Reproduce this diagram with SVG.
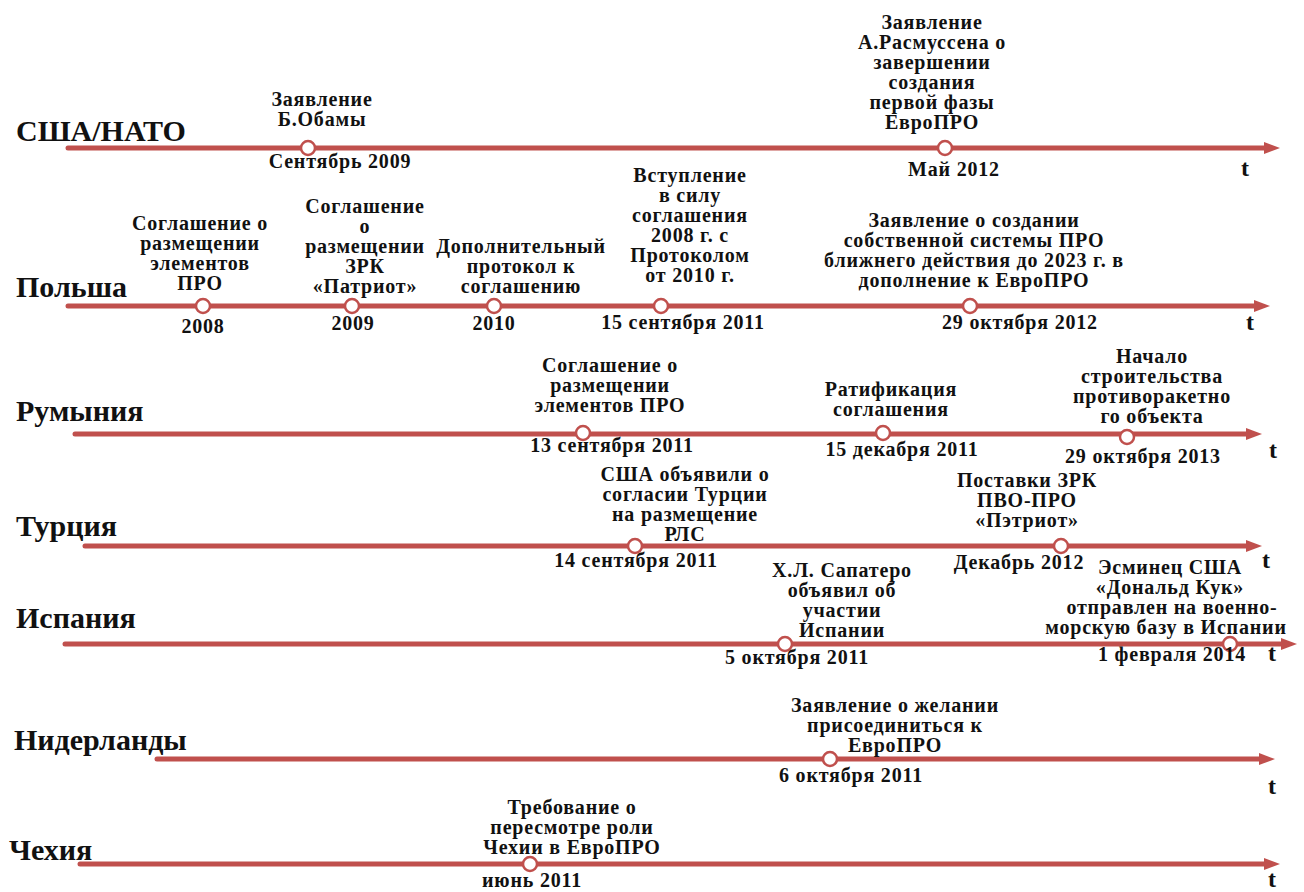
<svg xmlns="http://www.w3.org/2000/svg" width="1304" height="892" viewBox="0 0 1304 892">
<style>
  text { font-family: "Liberation Serif", "Times New Roman", serif; font-weight: bold; fill: #111; }
  .country { font-size: 30px; }
  .ev { font-size: 20px; letter-spacing: 0.8px; text-anchor: middle; }
  .t { font-size: 24px; text-anchor: middle; }
  .axis { stroke: #c0504d; stroke-width: 5; stroke-linecap: round; fill: none; }
  .dot { fill: #fff; stroke: #c0504d; stroke-width: 2.5; }
</style>
<defs>
  <marker id="arr" markerUnits="userSpaceOnUse" markerWidth="18" markerHeight="14" refX="4" refY="6" orient="auto">
    <path d="M0,0 L16,6 L0,12 z" fill="#c0504d"/>
  </marker>
</defs>
<rect width="1304" height="892" fill="#fff"/>

<g id="connectors">
  <line class="axis" x1="68" y1="148" x2="1268" y2="148" marker-end="url(#arr)"/>
  <line class="axis" x1="68" y1="306" x2="1258" y2="306" marker-end="url(#arr)"/>
  <line class="axis" x1="75" y1="434" x2="1250" y2="434" marker-end="url(#arr)"/>
  <line class="axis" x1="85" y1="546" x2="1250" y2="546" marker-end="url(#arr)"/>
  <line class="axis" x1="65" y1="644" x2="1285" y2="644" marker-end="url(#arr)"/>
  <line class="axis" x1="157" y1="759" x2="1263" y2="759" marker-end="url(#arr)"/>
  <line class="axis" x1="80" y1="864" x2="1268" y2="864" marker-end="url(#arr)"/>
</g>

<g id="row-usa">
  <text class="country" x="16" y="141">США/НАТО</text>
  <text class="t" x="1245" y="176">t</text>
</g>
<g id="ev-usa-2009">
  <circle class="dot" cx="308" cy="148" r="7"/>
  <text class="ev"><tspan x="322" y="106">Заявление</tspan><tspan x="322" y="126">Б.Обамы</tspan></text>
  <text class="ev" x="340" y="168">Сентябрь 2009</text>
</g>
<g id="ev-usa-2012">
  <circle class="dot" cx="945" cy="148" r="7"/>
  <text class="ev"><tspan x="932" y="29">Заявление</tspan><tspan x="932" y="49">А.Расмуссена о</tspan><tspan x="932" y="69">завершении</tspan><tspan x="932" y="89">создания</tspan><tspan x="932" y="109">первой фазы</tspan><tspan x="932" y="129">ЕвроПРО</tspan></text>
  <text class="ev" x="954" y="176">Май 2012</text>
</g>

<g id="row-poland">
  <text class="country" x="16" y="297">Польша</text>
  <text class="t" x="1250" y="330">t</text>
</g>
<g id="ev-pl-2008">
  <circle class="dot" cx="203" cy="306" r="7"/>
  <text class="ev"><tspan x="200" y="230">Соглашение о</tspan><tspan x="200" y="250">размещении</tspan><tspan x="200" y="270">элементов</tspan><tspan x="200" y="290">ПРО</tspan></text>
  <text class="ev" x="203" y="333">2008</text>
</g>
<g id="ev-pl-2009">
  <circle class="dot" cx="352" cy="306" r="7"/>
  <text class="ev"><tspan x="365" y="213">Соглашение</tspan><tspan x="365" y="233">о</tspan><tspan x="365" y="253">размещении</tspan><tspan x="365" y="273">ЗРК</tspan><tspan x="365" y="293">«Патриот»</tspan></text>
  <text class="ev" x="353" y="330">2009</text>
</g>
<g id="ev-pl-2010">
  <circle class="dot" cx="494" cy="306" r="7"/>
  <text class="ev"><tspan x="521" y="253">Дополнительный</tspan><tspan x="521" y="273">протокол к</tspan><tspan x="521" y="293">соглашению</tspan></text>
  <text class="ev" x="494" y="330">2010</text>
</g>
<g id="ev-pl-2011">
  <circle class="dot" cx="661" cy="306" r="7"/>
  <text class="ev"><tspan x="690" y="182">Вступление</tspan><tspan x="690" y="202">в силу</tspan><tspan x="690" y="222">соглашения</tspan><tspan x="690" y="242">2008 г. с</tspan><tspan x="690" y="262">Протоколом</tspan><tspan x="690" y="282">от 2010 г.</tspan></text>
  <text class="ev" x="683" y="329">15 сентября 2011</text>
</g>
<g id="ev-pl-2012">
  <circle class="dot" cx="970" cy="306" r="7"/>
  <text class="ev"><tspan x="974" y="227">Заявление о создании</tspan><tspan x="974" y="247">собственной системы ПРО</tspan><tspan x="974" y="267">ближнего действия до 2023 г. в</tspan><tspan x="974" y="287">дополнение к ЕвроПРО</tspan></text>
  <text class="ev" x="1020" y="329">29 октября 2012</text>
</g>

<g id="row-romania">
  <text class="country" x="16" y="421">Румыния</text>
  <text class="t" x="1273" y="458">t</text>
</g>
<g id="ev-ro-2011a">
  <circle class="dot" cx="583" cy="433" r="7"/>
  <text class="ev"><tspan x="610" y="372">Соглашение о</tspan><tspan x="610" y="392">размещении</tspan><tspan x="610" y="412">элементов ПРО</tspan></text>
  <text class="ev" x="612" y="452">13 сентября 2011</text>
</g>
<g id="ev-ro-2011b">
  <circle class="dot" cx="883" cy="433" r="7"/>
  <text class="ev"><tspan x="891" y="396">Ратификация</tspan><tspan x="891" y="416">соглашения</tspan></text>
  <text class="ev" x="902" y="456">15 декабря 2011</text>
</g>
<g id="ev-ro-2013">
  <circle class="dot" cx="1127" cy="437" r="7"/>
  <text class="ev"><tspan x="1152" y="363">Начало</tspan><tspan x="1152" y="383">строительства</tspan><tspan x="1152" y="403">противоракетно</tspan><tspan x="1152" y="423">го объекта</tspan></text>
  <text class="ev" x="1143" y="463">29 октября 2013</text>
</g>

<g id="row-turkey">
  <text class="country" x="16" y="536">Турция</text>
  <text class="t" x="1266" y="568">t</text>
</g>
<g id="ev-tr-2011">
  <circle class="dot" cx="635" cy="546" r="7"/>
  <text class="ev"><tspan x="685" y="481">США объявили о</tspan><tspan x="685" y="501">согласии Турции</tspan><tspan x="685" y="521">на размещение</tspan><tspan x="685" y="541">РЛС</tspan></text>
  <text class="ev" x="636" y="567">14 сентября 2011</text>
</g>
<g id="ev-tr-2012">
  <circle class="dot" cx="1061" cy="546" r="7"/>
  <text class="ev"><tspan x="1027" y="487">Поставки ЗРК</tspan><tspan x="1027" y="507">ПВО-ПРО</tspan><tspan x="1027" y="527">«Пэтриот»</tspan></text>
  <text class="ev" x="1019" y="569">Декабрь 2012</text>
</g>

<g id="row-spain">
  <text class="country" x="16" y="628">Испания</text>
  <text class="t" x="1272" y="661">t</text>
</g>
<g id="ev-es-2011">
  <circle class="dot" cx="785" cy="644" r="7"/>
  <text class="ev"><tspan x="842" y="577">Х.Л. Сапатеро</tspan><tspan x="842" y="597">объявил об</tspan><tspan x="842" y="617">участии</tspan><tspan x="842" y="637">Испании</tspan></text>
  <text class="ev" x="797" y="664">5 октября 2011</text>
</g>
<g id="ev-es-2014">
  <circle class="dot" cx="1230" cy="644" r="7"/>
  <text class="ev"><tspan x="1170" y="574">Эсминец США</tspan><tspan x="1170" y="594">«Дональд Кук»</tspan><tspan x="1172" y="614">отправлен на военно-</tspan><tspan x="1166" y="634">морскую базу в Испании</tspan></text>
  <text class="ev" x="1172" y="661">1 февраля 2014</text>
</g>

<g id="row-netherlands">
  <text class="country" x="14" y="750">Нидерланды</text>
  <text class="t" x="1272" y="794">t</text>
</g>
<g id="ev-nl-2011">
  <circle class="dot" cx="830" cy="759" r="7"/>
  <text class="ev"><tspan x="895" y="712">Заявление о желании</tspan><tspan x="895" y="732">присоединиться к</tspan><tspan x="895" y="752">ЕвроПРО</tspan></text>
  <text class="ev" x="851" y="782">6 октября 2011</text>
</g>

<g id="row-czech">
  <text class="country" x="9" y="860">Чехия</text>
  <text class="t" x="1272" y="887">t</text>
</g>
<g id="ev-cz-2011">
  <circle class="dot" cx="530" cy="864" r="7"/>
  <text class="ev"><tspan x="572" y="814">Требование о</tspan><tspan x="572" y="834">пересмотре роли</tspan><tspan x="572" y="854">Чехии в ЕвроПРО</tspan></text>
  <text class="ev" x="532" y="887">июнь 2011</text>
</g>
</svg>
